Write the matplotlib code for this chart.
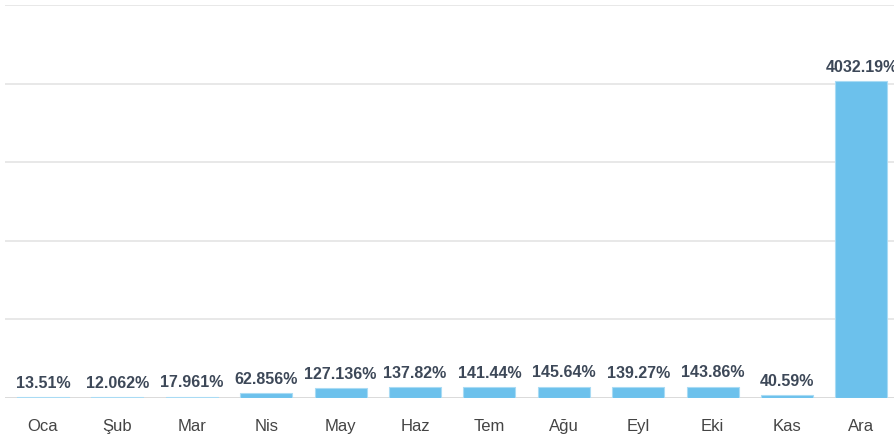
import matplotlib
matplotlib.use('Agg')
import matplotlib.pyplot as plt

plt.rcParams['font.family'] = ['Liberation Sans', 'DejaVu Sans']

months = ['Oca', 'Şub', 'Mar', 'Nis', 'May', 'Haz', 'Tem', 'Ağu', 'Eyl', 'Eki', 'Kas', 'Ara']
values = [13.51, 12.062, 17.961, 62.856, 127.136, 137.82, 141.44, 145.64, 139.27, 143.86, 40.59, 4032.19]
labels = ['13.51%', '12.062%', '17.961%', '62.856%', '127.136%', '137.82%', '141.44%',
          '145.64%', '139.27%', '143.86%', '40.59%', '4032.19%']

W, H = 894, 436
fig = plt.figure(figsize=(W / 100, H / 100), dpi=100)
# axes placed in pixels: left edge 5, baseline at y=398, top grid at y=5
ax = fig.add_axes([5 / W, 38 / H, (W - 5) / W, 393 / H])

x = range(len(months))
ax.bar(x, values, width=0.7, color='#6cc1ec', edgecolor='#a9dbf4', linewidth=0.8, zorder=3)

# value labels over each bar (the last one runs off the right edge, as in the original)
for i, (v, lab) in enumerate(zip(values, labels)):
    ax.annotate(lab, (i, v), xytext=(0, 4.5), textcoords='offset points',
                ha='center', va='bottom', fontsize=11.5, fontweight='bold',
                color='#3d4858', zorder=4)

ax.set_xlim(-0.511, 11.438)
ax.set_ylim(0, 5000)
ax.set_yticks([1000, 2000, 3000, 4000, 5000])
ax.yaxis.grid(True, color='#e6e6e6', linewidth=1.3, zorder=0)
ax.axhline(0, color='#d8d8d8', linewidth=1.3, zorder=2)
ax.tick_params(axis='y', left=False, labelleft=False)
ax.tick_params(axis='x', length=0, pad=15, labelsize=12, labelcolor='#444444')
ax.set_xticks(list(x))
ax.set_xticklabels(months)
for s in ax.spines.values():
    s.set_visible(False)

fig.savefig('out.png', dpi=100)
